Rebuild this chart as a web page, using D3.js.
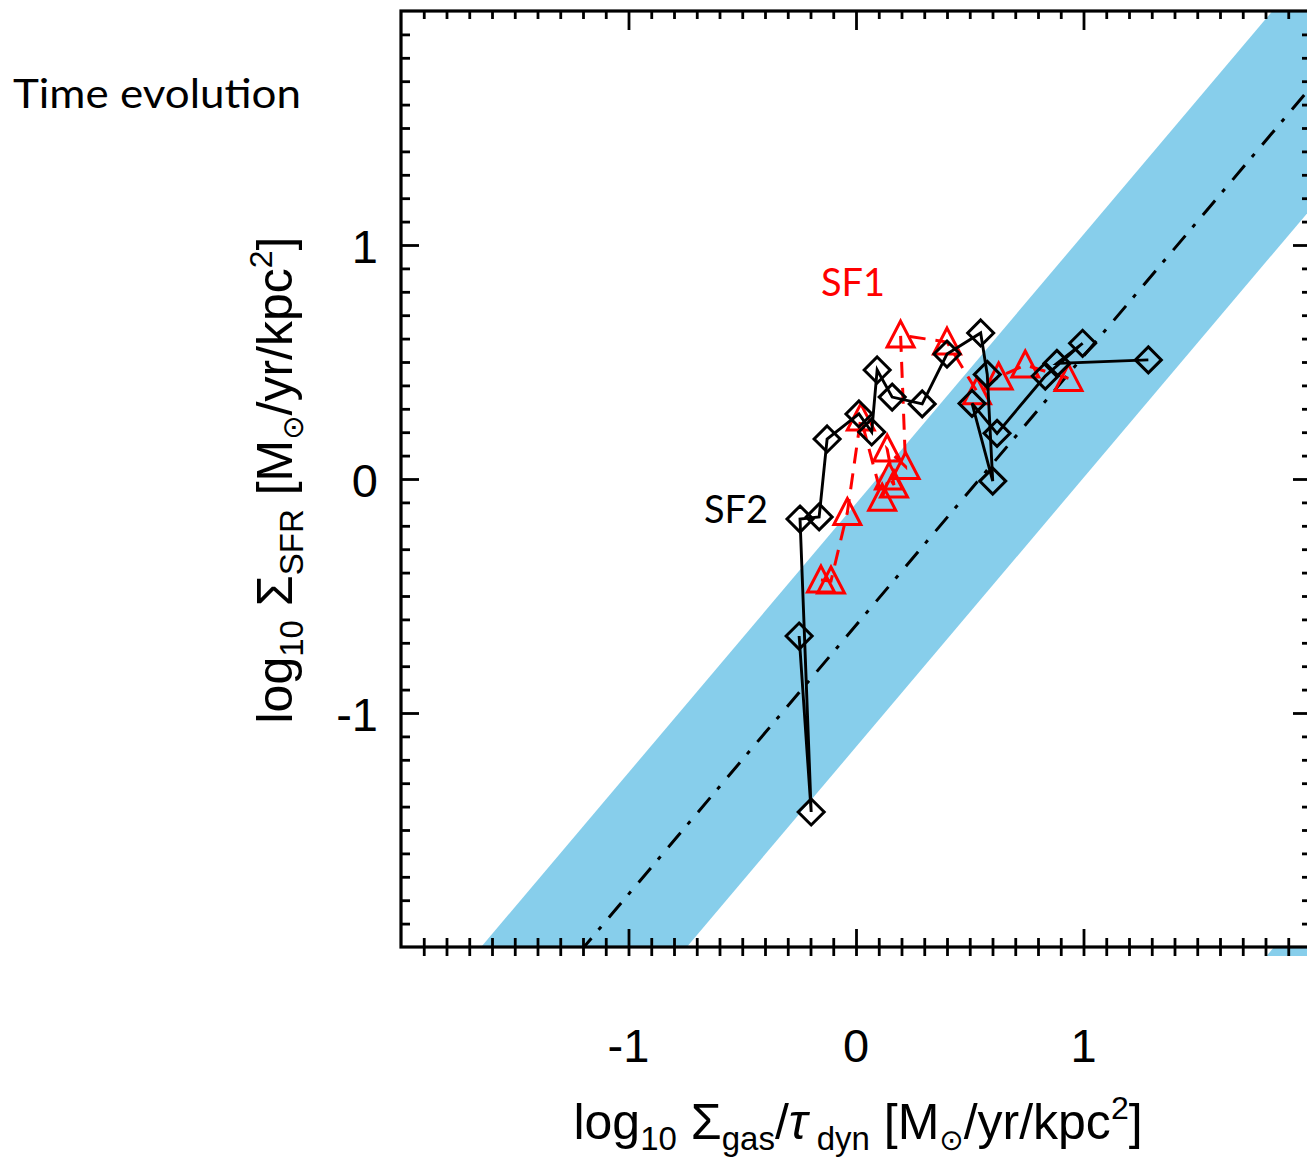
<!DOCTYPE html>
<html><head><meta charset="utf-8">
<script src="https://cdn.jsdelivr.net/npm/d3@7"></script>
<style>body{margin:0;background:#fff}</style>
</head><body>
<svg id="chart" width="1307" height="1161" xmlns="http://www.w3.org/2000/svg"></svg>
<script>
// ---- data ----
const sf2X = [-0.250, -0.197, -0.246, -0.162, -0.127, 0.013, 0.069, 0.093, 0.159, 0.291, 0.400, 0.548, 0.577, 0.601, 0.510, 0.620, 0.832, 0.996, 0.883, 1.285];
const sf2Y = [-0.671, -1.423, -0.171, -0.162, 0.171, 0.278, 0.201, 0.466, 0.350, 0.321, 0.534, 0.624, 0.447, -0.009, 0.323, 0.195, 0.440, 0.580, 0.494, 0.509];
const sf1X = [-0.154, -0.110, -0.038, 0.021, 0.115, 0.145, 0.167, 0.137, 0.218, 0.196, 0.400, 0.532, 0.627, 0.744, 0.934];
const sf1Y = [-0.432, -0.436, -0.143, 0.261, -0.082, 0.009, -0.026, 0.128, 0.053, 0.615, 0.585, 0.373, 0.436, 0.487, 0.430];
const xDomain = [-2, 2];
const yDomain = [-2, 2];
const majorTicks = [-1, 0, 1];
const majorTickLabels = ["-1", "0", "1"];
const minorTicks = d3.range(-20, 21).map(i => i / 10);
const relationSlope = 1.15;
const relationIntercept = -0.625;
const relationHalfWidth = 0.52;
const seriesLabels = ["SF1", "SF2"];
const titleText = "Time evolution";

// ---- layout ----
const W = 1307, H = 1161;
const L = 401, R = 1311, T = 11, B = 947;
const svg = d3.select("#chart");
const x = d3.scaleLinear().domain(xDomain).range([L, R]);
const y = d3.scaleLinear().domain(yDomain).range([B, T]);
// the panel directly below (only a sliver is visible)
const yBelow = d3.scaleLinear().domain(yDomain).range([B + 2 + (B - T), B + 2]);

const defs = svg.append("defs");
defs.append("clipPath").attr("id", "plotClip").append("rect")
  .attr("x", L).attr("y", T).attr("width", R - L).attr("height", B - T);
defs.append("clipPath").attr("id", "belowClip").append("rect")
  .attr("x", L).attr("y", B + 1).attr("width", R - L).attr("height", 8);

const lineData = xDomain.map(v => v);
function bandPoly(ys) {
  const upper = lineData.map(v => [x(v), ys(relationSlope * v + relationIntercept + relationHalfWidth)]);
  const lower = lineData.slice().reverse().map(v => [x(v), ys(relationSlope * v + relationIntercept - relationHalfWidth)]);
  return upper.concat(lower);
}
svg.append("g").attr("clip-path", "url(#plotClip)")
  .append("path").attr("d", d3.line()(bandPoly(y)) + "Z").attr("fill", "#87CEEB");
svg.append("g").attr("clip-path", "url(#belowClip)")
  .append("path").attr("d", d3.line()(bandPoly(yBelow)) + "Z").attr("fill", "#87CEEB");

// relation line (dash-dot)
svg.append("g").attr("clip-path", "url(#plotClip)")
  .append("path")
  .attr("d", d3.line()(lineData.map(v => [x(v), y(relationSlope * v + relationIntercept)])))
  .attr("fill", "none").attr("stroke", "#000").attr("stroke-width", 3)
  .attr("stroke-dasharray", "19,11,4,12");

// ---- axes ----
const isMajor = v => Math.abs(v - Math.round(v)) < 1e-9 && Math.abs(v) < 2;
function styleAxis(g) {
  g.select(".domain").remove();
  g.selectAll(".tick line").attr("stroke", "#000").attr("stroke-width", 2.8);
  g.selectAll(".tick text").remove();
}
const tickVals = minorTicks.filter(v => v > -2 && v < 2);
// bottom: inward
svg.append("g").attr("transform", `translate(0,${B})`)
  .call(d3.axisTop(x).tickValues(tickVals).tickSizeOuter(0).tickSizeInner(9))
  .call(styleAxis)
  .call(g => g.selectAll(".tick line").filter(d => isMajor(d)).attr("y2", -18));
// bottom: ticks of the panel below
svg.append("g").attr("transform", `translate(0,${B})`)
  .call(d3.axisBottom(x).tickValues(tickVals).tickSizeOuter(0).tickSizeInner(9))
  .call(styleAxis);
// top
svg.append("g").attr("transform", `translate(0,${T})`)
  .call(d3.axisBottom(x).tickValues(tickVals).tickSizeOuter(0).tickSizeInner(8))
  .call(styleAxis)
  .call(g => g.selectAll(".tick line").filter(d => isMajor(d)).attr("y2", 19));
// left
svg.append("g").attr("transform", `translate(${L},0)`)
  .call(d3.axisRight(y).tickValues(tickVals).tickSizeOuter(0).tickSizeInner(9))
  .call(styleAxis)
  .call(g => g.selectAll(".tick line").filter(d => isMajor(d)).attr("x2", 18));
// right
svg.append("g").attr("transform", `translate(${R},0)`)
  .call(d3.axisLeft(y).tickValues(tickVals).tickSizeOuter(0).tickSizeInner(9))
  .call(styleAxis)
  .call(g => g.selectAll(".tick line").filter(d => isMajor(d)).attr("x2", -18));
// frame
svg.append("rect").attr("x", L).attr("y", T).attr("width", R - L).attr("height", B - T)
  .attr("fill", "none").attr("stroke", "#000").attr("stroke-width", 3.2);

// tick labels
const tickFont = "'Liberation Sans', Arial, Helvetica, sans-serif";
svg.append("g").selectAll("text").data(majorTicks).join("text")
  .attr("x", d => x(d)).attr("y", 1062).attr("text-anchor", "middle")
  .attr("font-family", tickFont).attr("font-size", 47).attr("fill", "#000")
  .text((d, i) => majorTickLabels[i]);
svg.append("g").selectAll("text").data(majorTicks).join("text")
  .attr("x", 378).attr("y", d => y(d) + 18).attr("text-anchor", "end")
  .attr("font-family", tickFont).attr("font-size", 47).attr("fill", "#000")
  .text((d, i) => majorTickLabels[i]);

// axis titles
function addParts(t, parts) {
  parts.forEach(p => {
    const s = t.append("tspan").text(p.t).attr("font-size", p.fs || 50);
    if (p.dy) s.attr("dy", p.dy);
    if (p.it) s.attr("font-style", "italic");
    if (p.ff) s.attr("font-family", p.ff);
  });
}
const xt = svg.append("text").attr("x", 858).attr("y", 1139).attr("text-anchor", "middle")
  .attr("font-family", tickFont).attr("fill", "#000");
addParts(xt, [
  {t: "log"}, {t: "10", fs: 33, dy: 11}, {t: " Σ", dy: -11}, {t: "gas", fs: 33, dy: 11},
  {t: "/", dy: -11}, {t: "τ", it: true}, {t: " dyn", fs: 33, dy: 11}, {t: " [M", dy: -11},
  {t: "⊙", fs: 29, dy: 11, ff: "'DejaVu Sans', sans-serif"}, {t: "/yr/kpc", dy: -11}, {t: "2", fs: 32, dy: -20}, {t: "]", dy: 20}
]);
const yt = svg.append("text").attr("transform", "translate(292,480) rotate(-90)").attr("text-anchor", "middle")
  .attr("font-family", tickFont).attr("fill", "#000");
addParts(yt, [
  {t: "log"}, {t: "10", fs: 33, dy: 11}, {t: " Σ", dy: -11}, {t: "SFR", fs: 33, dy: 11},
  {t: " [M", dy: -11}, {t: "⊙", fs: 29, dy: 11, ff: "'DejaVu Sans', sans-serif"}, {t: "/yr/kpc", dy: -11},
  {t: "2", fs: 32, dy: -20}, {t: "]", dy: 20}
]);

// ---- series ----
const sf1 = sf1X.map((v, i) => [v, sf1Y[i]]);
const sf2 = sf2X.map((v, i) => [v, sf2Y[i]]);
const line = d3.line().x(d => x(d[0])).y(d => y(d[1]));

svg.append("path").attr("d", line(sf1)).attr("fill", "none").attr("stroke", "#ff0000")
  .attr("stroke-width", 3).attr("stroke-dasharray", "16,10");
svg.append("g").selectAll("path").data(sf1).join("path")
  .attr("transform", d => `translate(${x(d[0])},${y(d[1])})`)
  .attr("d", "M0,-14L13.5,12L-13.5,12Z")
  .attr("fill", "none").attr("stroke", "#ff0000").attr("stroke-width", 3);

svg.append("path").attr("d", line(sf2)).attr("fill", "none").attr("stroke", "#000")
  .attr("stroke-width", 2.9);
svg.append("g").selectAll("path").data(sf2).join("path")
  .attr("transform", d => `translate(${x(d[0])},${y(d[1])})`)
  .attr("d", "M0,-13L13,0L0,13L-13,0Z")
  .attr("fill", "none").attr("stroke", "#000").attr("stroke-width", 3);

// ---- annotations ----
const annFont = "Lato, 'Open Sans', sans-serif";
svg.append("text").attr("x", 821).attr("y", 296).attr("font-family", annFont)
  .attr("font-size", 38).attr("fill", "#ff0000").attr("textLength", 64).attr("lengthAdjust", "spacingAndGlyphs")
  .text(seriesLabels[0]);
svg.append("text").attr("x", 704).attr("y", 523).attr("font-family", annFont)
  .attr("font-size", 38).attr("fill", "#000").attr("textLength", 64).attr("lengthAdjust", "spacingAndGlyphs")
  .text(seriesLabels[1]);
svg.append("text").attr("x", 13).attr("y", 108).attr("font-family", annFont)
  .attr("font-size", 41).attr("fill", "#000").attr("textLength", 288).attr("lengthAdjust", "spacingAndGlyphs")
  .text(titleText);
</script>
</body></html>
